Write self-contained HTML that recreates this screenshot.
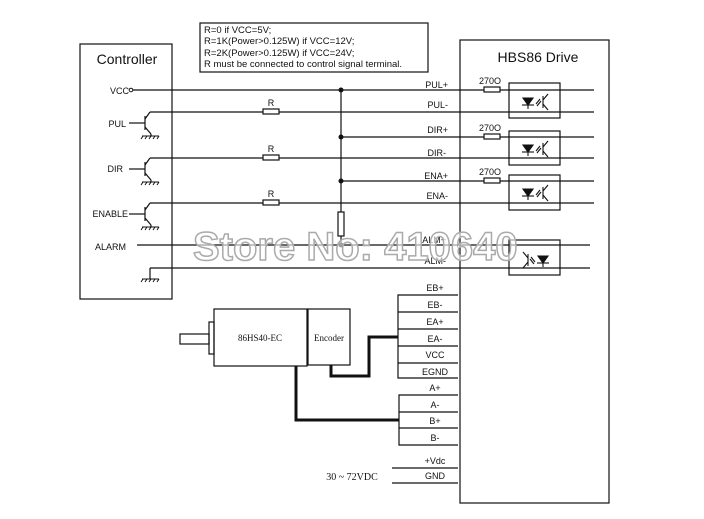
<!DOCTYPE html>
<html><head><style>body{margin:0;background:#fff}svg{display:block}text{font-family:"Liberation Sans",sans-serif;fill:#111}</style></head><body>
<svg width="704" height="519" viewBox="0 0 704 519" xmlns="http://www.w3.org/2000/svg">
<defs>
<g id="op" stroke="#111" stroke-width="1.1" fill="none">
<polygon points="523,98 533,98 528,105" fill="#111"/><line x1="522" y1="105" x2="534" y2="105"/><line x1="528" y1="105" x2="528" y2="109"/>
<line x1="536" y1="104" x2="540" y2="99"/><line x1="537" y1="106" x2="541" y2="101"/>
<line x1="543" y1="96" x2="543" y2="108"/><line x1="543" y1="100" x2="548" y2="94"/><line x1="543" y1="104" x2="548" y2="110"/>
</g>
<g id="gnd" stroke="#111" stroke-width="1"><line x1="142" y1="0" x2="159" y2="0"/><line x1="143" y1="0" x2="141" y2="3"/><line x1="147" y1="0" x2="145" y2="3"/><line x1="151" y1="0" x2="149" y2="3"/><line x1="155" y1="0" x2="153" y2="3"/><line x1="159" y1="0" x2="157" y2="3"/></g>
</defs>
<g stroke="#111" stroke-width="1.2" fill="none">
<rect x="80" y="44" width="92" height="255"/>
<rect x="200" y="23" width="228" height="49"/>
<rect x="460" y="40" width="149" height="463"/>
<line x1="133" y1="90" x2="484" y2="90"/><line x1="500" y1="90" x2="594" y2="90"/>
<line x1="150" y1="112" x2="263" y2="112"/><line x1="279" y1="112" x2="594" y2="112"/>
<line x1="341" y1="137" x2="484" y2="137"/><line x1="500" y1="137" x2="594" y2="137"/>
<line x1="150" y1="158" x2="263" y2="158"/><line x1="279" y1="158" x2="594" y2="158"/>
<line x1="341" y1="181" x2="484" y2="181"/><line x1="500" y1="181" x2="594" y2="181"/>
<line x1="150" y1="203" x2="263" y2="203"/><line x1="279" y1="203" x2="594" y2="203"/>
<line x1="137" y1="245" x2="590" y2="245"/>
<line x1="150" y1="268" x2="590" y2="268"/>
<line x1="341" y1="90" x2="341" y2="212"/><rect x="338" y="212" width="6" height="24"/><line x1="341" y1="236" x2="341" y2="245"/>
<rect x="263" y="109" width="16" height="5"/><rect x="263" y="155" width="16" height="5"/><rect x="263" y="200" width="16" height="5"/>
<rect x="484" y="87" width="16" height="5"/><rect x="484" y="134" width="16" height="5"/><rect x="484" y="178" width="16" height="5"/>
<g id="t"><line x1="129" y1="123" x2="145" y2="123"/><line x1="145" y1="116" x2="145" y2="130"/><line x1="145" y1="119" x2="150" y2="112"/><line x1="145" y1="127" x2="151" y2="134"/><line x1="151" y1="134" x2="151" y2="136"/></g>
<use href="#t" y="46"/><use href="#t" y="91"/>
<line x1="150" y1="268" x2="150" y2="279"/>
<rect x="509" y="83" width="51" height="35"/><rect x="509" y="131" width="51" height="34"/><rect x="509" y="175" width="51" height="35"/><rect x="509" y="240" width="51" height="35"/>
<polyline points="458,295 398,295 398,378 458,378"/>
<line x1="398" y1="312" x2="458" y2="312"/><line x1="398" y1="329" x2="458" y2="329"/><line x1="398" y1="346" x2="458" y2="346"/><line x1="398" y1="363" x2="458" y2="363"/>
<polyline points="458,395 399,395 399,445 458,445"/>
<line x1="399" y1="412" x2="458" y2="412"/><line x1="399" y1="428" x2="458" y2="428"/>
<line x1="392" y1="468" x2="458" y2="468"/><line x1="392" y1="483" x2="458" y2="483"/>
<rect x="214" y="309" width="93" height="57"/><rect x="308" y="309" width="42" height="56"/>
<rect x="180" y="334" width="29" height="10"/><rect x="209" y="322" width="5" height="32"/>
</g>
<use href="#gnd" y="136"/><use href="#gnd" y="182"/><use href="#gnd" y="227"/><use href="#gnd" y="279"/>
<use href="#op"/><use href="#op" y="47"/><use href="#op" y="91"/>
<use href="#op" transform="translate(1071,0) scale(-1,1) translate(0,158)"/>
<g stroke="#111" stroke-width="3" fill="none"><polyline points="331,365 331,376 369,376 369,337 398,337"/><polyline points="296,366 296,420 399,420"/></g>
<g fill="#111"><circle cx="341" cy="90" r="2.5"/><circle cx="341" cy="137" r="2.5"/><circle cx="341" cy="181" r="2.5"/><circle cx="341" cy="245" r="2.5"/></g>
<circle cx="131" cy="90" r="1.8" fill="#fff" stroke="#111"/>
<g font-size="14" text-anchor="middle"><text x="127" y="64">Controller</text><text x="538" y="62">HBS86 Drive</text></g>
<g font-size="9.5"><text x="204" y="33">R=0 if VCC=5V;</text><text x="204" y="44">R=1K(Power&gt;0.125W) if VCC=12V;</text><text x="204" y="56">R=2K(Power&gt;0.125W) if VCC=24V;</text><text x="204" y="67">R must be connected to control signal terminal.</text></g>
<g font-size="9" text-anchor="end"><text x="129" y="94">VCC</text><text x="126" y="127">PUL</text><text x="123" y="172">DIR</text><text x="128" y="217">ENABLE</text><text x="126" y="250">ALARM</text>
<text x="448" y="88">PUL+</text><text x="448" y="108">PUL-</text><text x="448" y="133">DIR+</text><text x="446" y="156">DIR-</text><text x="448" y="179">ENA+</text><text x="448" y="199">ENA-</text><text x="446" y="243">ALM+</text><text x="446" y="264">ALM-</text></g>
<g font-size="9" text-anchor="middle"><text x="271" y="106">R</text><text x="271" y="152">R</text><text x="271" y="197">R</text>
<text x="490" y="84">270O</text><text x="490" y="131">270O</text><text x="490" y="175">270O</text>
<text x="435" y="291">EB+</text><text x="435" y="308">EB-</text><text x="435" y="325">EA+</text><text x="435" y="342">EA-</text><text x="435" y="358">VCC</text><text x="435" y="375">EGND</text>
<text x="435" y="391">A+</text><text x="435" y="408">A-</text><text x="435" y="424">B+</text><text x="435" y="441">B-</text><text x="435" y="464">+Vdc</text><text x="435" y="479">GND</text></g>
<g font-size="9" text-anchor="middle"><text x="260" y="341" style="font-family:'Liberation Serif',serif">86HS40-EC</text><text x="329" y="341" style="font-family:'Liberation Serif',serif">Encoder</text><text x="352" y="480" font-size="10" style="font-family:'Liberation Serif',serif">30 ~ 72VDC</text></g>
<text x="193" y="260" font-size="40" font-weight="bold" style="fill:rgba(255,255,255,0.6);stroke:#aaa;stroke-width:1.5">Store No: 410640</text>
</svg>
</body></html>
